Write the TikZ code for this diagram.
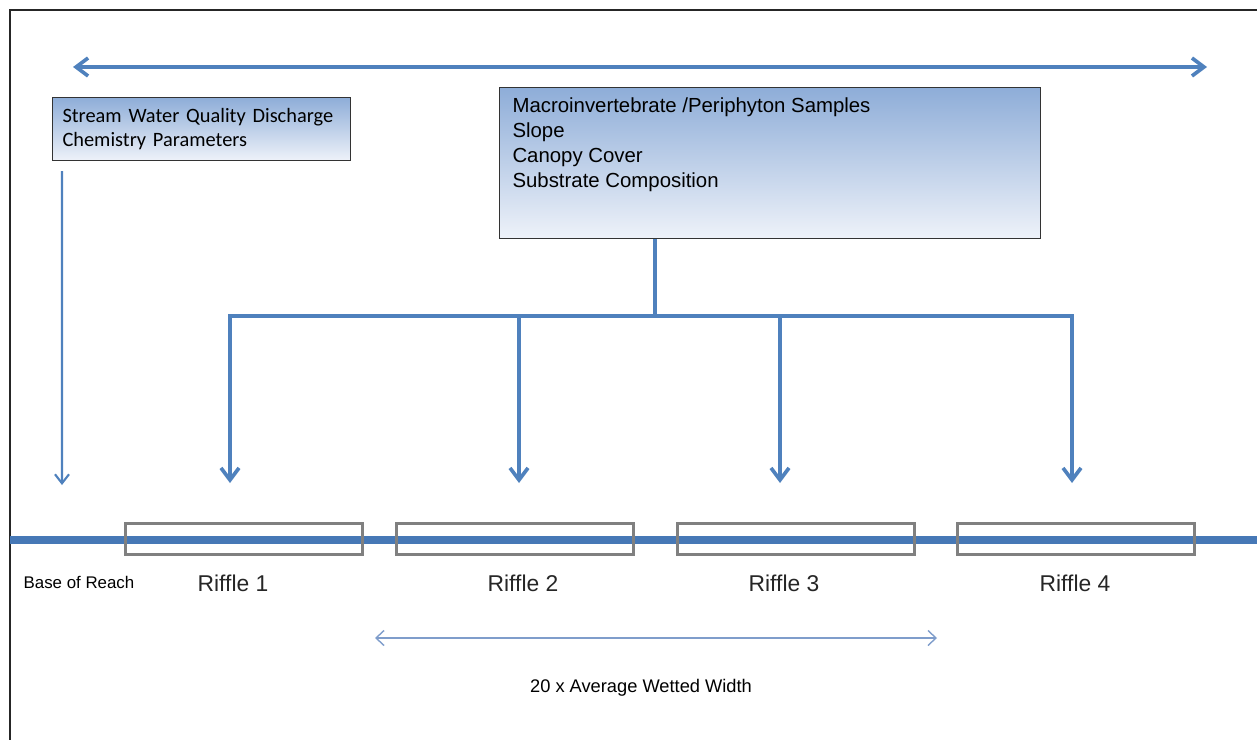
\documentclass[tikz,border=0pt]{standalone}
\usepackage{fontspec}
\setmainfont{Liberation Sans}
\newfontfamily\calibri{Carlito}
\usetikzlibrary{positioning, arrows.meta}
\definecolor{flow_blue}{HTML}{4F81BD}
\definecolor{stream_blue}{HTML}{4678B6}
\definecolor{box_top}{HTML}{8EADD8}
\definecolor{box_bottom}{HTML}{EEF2F9}
\definecolor{riffle_edge}{HTML}{808080}
\definecolor{width_blue}{HTML}{7F9DCB}

\begin{document}
\begin{tikzpicture}[
    x=0.02cm, y=-0.02cm, % un pixel del disegno
    font=\fontsize{11.6}{14.2}\selectfont,
    >={Straight Barb[length=0.24cm, width=0.36cm]},
    feedline/.style={draw=flow_blue, line width=2.1pt, line join=miter},
    infobox/.style={draw=black!80, line width=0.6pt, top color=box_top, bottom color=box_bottom, inner sep=0pt},
    rifflebox/.style={draw=riffle_edge, line width=1.7pt, minimum width=4.74cm, minimum height=0.62cm, inner sep=0pt},
    rifflelabel/.style={font=\fontsize{13}{15}\selectfont, text=black!85}
]
\useasboundingbox (0,0) rectangle (1257,740);

% --- Cornice ---
\draw[line width=0.9pt, black!85] (10,740) -- (10,10) -- (1257,10);

% --- Freccia dell'intero tratto ---
\coordinate (reach left) at (73,67);
\coordinate (reach right) at (1207,67);
\draw[feedline, <->] (reach left) -- (reach right);

% --- Riquadri dei parametri ---
\node[infobox, anchor=north west, minimum width=5.96cm, minimum height=1.26cm,
      text width=5.56cm, align=left, inner xsep=0.2cm,
      font=\calibri\fontsize{11.6}{13.7}\selectfont] (stream) at (52,97)
    {Stream Water Quality Discharge\\Chemistry Parameters};

\node[infobox, anchor=north west, inner xsep=0.26cm, inner ysep=0.2cm] (samples) at (499,87)
    {\parbox[t][2.62cm][t]{10.3cm}{Macroinvertebrate /Periphyton Samples\\Slope\\Canopy Cover\\Substrate Composition}};

% --- Corso d'acqua ---
\coordinate (reach base) at (10,540);
\coordinate (reach end) at (1257,540);
\draw[stream_blue, line width=0.17cm] (reach base) -- (reach end);

% --- Riffle ---
\foreach \i/\cx/\dx in {1/244/-11, 2/515/8, 3/796/-12, 4/1076/-1} {
    \node[rifflebox] (riffle\i) at (\cx,539) {};
    \node[rifflelabel, below=0.26cm of riffle\i, xshift=\dx*0.02cm] (riffle label\i) {Riffle \i};
}

% --- Frecce verso i riffle ---
\coordinate (stem) at ([xshift=3.12cm]samples.south west);
\coordinate (branch) at (655,316);
\coordinate (tip1) at (230,483);
\coordinate (tip2) at (519,483);
\coordinate (tip3) at (780,483);
\coordinate (tip4) at (1072,483);
\draw[feedline] (stem) -- (branch);
\draw[feedline, <->] (tip1) |- (branch) -| (tip4);
\foreach \i in {2,3}
    \draw[feedline, ->] (tip\i |- branch) -- (tip\i);

% --- Freccia della base ---
\coordinate (base tip) at (62,485);
\draw[draw=flow_blue, line width=1.2pt, -{Straight Barb[length=0.18cm, width=0.28cm]}]
    ([xshift=0.2cm, yshift=-0.2cm]stream.south west) -- (base tip);
\node[font=\fontsize{9.6}{11}\selectfont] (base label) at (79,582) {Base of Reach};

% --- Larghezza ---
\coordinate (width left) at (375,638);
\coordinate (width right) at (937,638);
\draw[draw=width_blue, line width=0.8pt,
      {Straight Barb[length=0.16cm, width=0.3cm]}-{Straight Barb[length=0.16cm, width=0.3cm]}]
    (width left) -- (width right);
\node[font=\fontsize{10.4}{12}\selectfont] (width label) at (641,688) {20 x Average Wetted Width};

\end{tikzpicture}
\end{document}
